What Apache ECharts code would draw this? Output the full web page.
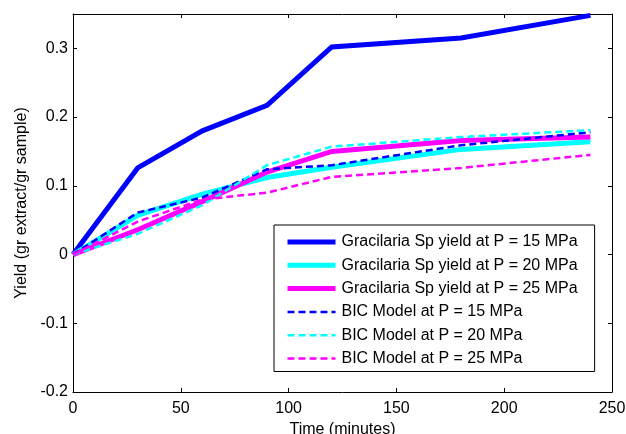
<!DOCTYPE html>
<html>
<head>
<meta charset="utf-8">
<script src="https://cdn.jsdelivr.net/npm/echarts@6/dist/echarts.min.js"></script>
<style>
  html, body { margin: 0; padding: 0; background: #fff; }
  #chart { width: 626px; height: 434px; }
</style>
</head>
<body>
<div id="chart"></div>
<script>
// Extraction time (minutes)
const times = [0, 30, 60, 90, 120, 180, 240];

// Measured Gracilaria Sp yield (gr extract / gr sample)
const yield15 = [0, 0.126, 0.180, 0.217, 0.302, 0.315, 0.348];
const yield20 = [0, 0.057, 0.088, 0.112, 0.127, 0.153, 0.164];
const yield25 = [0, 0.036, 0.077, 0.120, 0.150, 0.166, 0.171];

// BIC model curves
const bic15 = [0, 0.061, 0.083, 0.124, 0.130, 0.159, 0.178];
const bic20 = [0, 0.030, 0.072, 0.130, 0.157, 0.171, 0.181];
const bic25 = [0, 0.048, 0.080, 0.090, 0.113, 0.126, 0.145];

const seriesNames = [
  'Gracilaria Sp yield at P = 15 MPa',
  'Gracilaria Sp yield at P = 20 MPa',
  'Gracilaria Sp yield at P = 25 MPa',
  'BIC Model at P = 15 MPa',
  'BIC Model at P = 20 MPa',
  'BIC Model at P = 25 MPa'
];

const FONT = "'Liberation Sans', Arial, sans-serif";
const BLUE = '#0000ff', CYAN = '#00ffff', MAGENTA = '#ff00ff';
const DASH = [7, 4];

const pairs = ys => times.map((t, i) => [t, ys[i]]);

const specs = [
  { ys: yield15, color: BLUE, width: 5, type: 'solid' },
  { ys: yield20, color: CYAN, width: 5, type: 'solid' },
  { ys: yield25, color: MAGENTA, width: 5, type: 'solid' },
  { ys: bic15, color: BLUE, width: 2.5, type: DASH },
  { ys: bic20, color: CYAN, width: 2.5, type: DASH },
  { ys: bic25, color: MAGENTA, width: 2.5, type: DASH }
];

const series = specs.map((s, i) => ({
  name: seriesNames[i],
  type: 'line',
  xAxisIndex: 0,
  yAxisIndex: 0,
  data: pairs(s.ys),
  symbol: 'none',
  animation: false,
  itemStyle: { color: s.color },
  lineStyle: { color: s.color, width: s.width, type: s.type, cap: 'butt', join: 'miter' }
}));

const tickStyle = { inside: true, length: 4, lineStyle: { color: '#000', width: 1 } };
const lineStyle = { show: true, onZero: false, lineStyle: { color: '#000', width: 1 } };
const labelStyle = { color: '#000', fontSize: 16, fontFamily: FONT };

const chart = echarts.init(document.getElementById('chart'), null, { renderer: 'canvas' });
chart.setOption({
  backgroundColor: '#ffffff',
  animation: false,
  grid: { left: 73, right: 14, top: 14, bottom: 42, containLabel: false, outerBoundsMode: 'none' },
  legend: {
    orient: 'vertical',
    left: 274,
    top: 225,
    padding: [9, 17, 5, 11],
    itemWidth: 48,
    itemHeight: 16,
    itemGap: 7.3,
    borderColor: '#000',
    borderWidth: 1,
    borderRadius: 0,
    backgroundColor: '#ffffff',
    textStyle: { color: '#000', fontSize: 16, fontFamily: FONT, lineHeight: 16, padding: [0, 0, 0, 1] },
    data: specs.map((s, i) => ({
      name: seriesNames[i],
      itemStyle: { opacity: 0 },
      lineStyle: { width: s.width, type: s.type, color: s.color, opacity: 1 }
    }))
  },
  xAxis: [
    {
      type: 'value', position: 'bottom', min: 0, max: 250, interval: 50,
      name: 'Time (minutes)', nameLocation: 'middle', nameGap: 28,
      nameTextStyle: { color: '#000', fontSize: 16, fontFamily: FONT },
      axisLine: lineStyle, axisTick: tickStyle,
      axisLabel: Object.assign({ margin: 9 }, labelStyle),
      splitLine: { show: false }
    },
    {
      type: 'value', position: 'top', min: 0, max: 250, interval: 50,
      axisLine: lineStyle, axisTick: tickStyle,
      axisLabel: { show: false }, splitLine: { show: false }
    }
  ],
  yAxis: [
    {
      type: 'value', position: 'left', min: -0.2, max: 0.35, interval: 0.1,
      name: 'Yield (gr extract/gr sample)', nameLocation: 'middle', nameGap: 39,
      nameRotate: 90,
      nameTextStyle: { color: '#000', fontSize: 16, fontFamily: FONT },
      axisLine: lineStyle, axisTick: tickStyle,
      axisLabel: Object.assign({
        margin: 5,
        showMaxLabel: false,
        formatter: v => String(Number(v.toFixed(2)))
      }, labelStyle),
      splitLine: { show: false }
    },
    {
      type: 'value', position: 'right', min: -0.2, max: 0.35, interval: 0.1,
      axisLine: lineStyle, axisTick: tickStyle,
      axisLabel: { show: false }, splitLine: { show: false }
    }
  ],
  series: series
});
</script>
</body>
</html>
